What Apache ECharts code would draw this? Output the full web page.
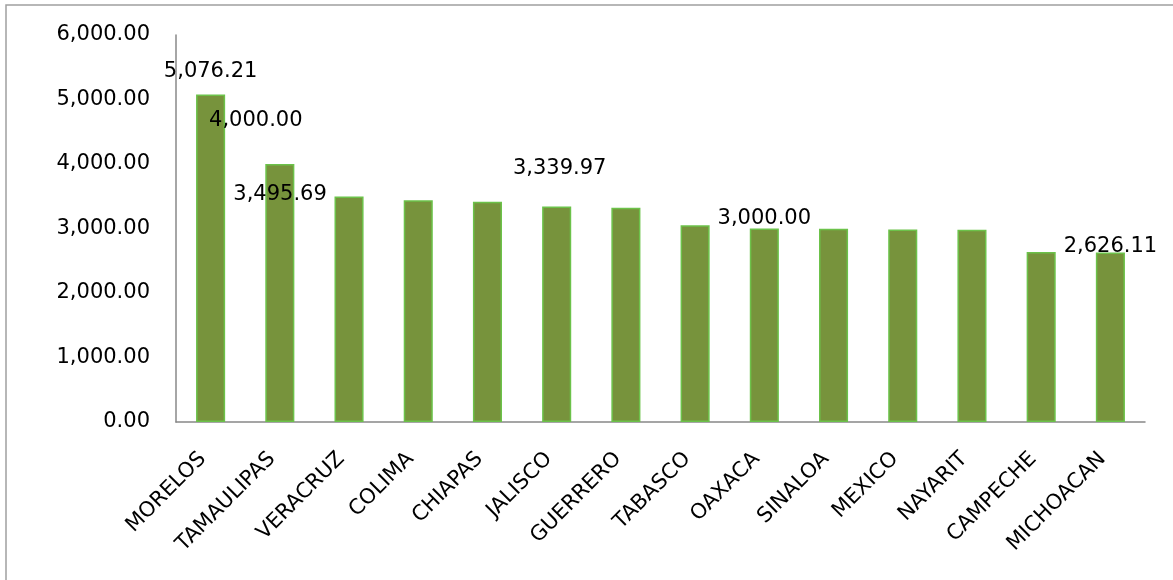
<!DOCTYPE html>
<html>
<head>
<meta charset="utf-8">
<script src="https://cdn.jsdelivr.net/npm/echarts@6/dist/echarts.min.js"></script>
<style>
  html, body { margin: 0; padding: 0; background: #fff; }
  #chart { width: 1173px; height: 580px; }
</style>
</head>
<body>
<div id="chart"></div>
<script>
// estados y valores
const estados = ['MORELOS', 'TAMAULIPAS', 'VERACRUZ', 'COLIMA', 'CHIAPAS', 'JALISCO', 'GUERRERO',
  'TABASCO', 'OAXACA', 'SINALOA', 'MEXICO', 'NAYARIT', 'CAMPECHE', 'MICHOACAN']
const valores = [5076.21, 4000.00, 3495.69, 3437, 3416, 3339.97, 3322,
  3050, 3000.00, 2998, 2983, 2980, 2635, 2626.11]
const yTicks = [0, 1000, 2000, 3000, 4000, 5000, 6000]

// etiquetas que se muestran (indice -> desplazamiento manual)
const etiquetas = {
  0: [0, -8],
  1: [-24, -28],
  2: [-69, 14],
  5: [3, -23],
  8: [0, 6],
  13: [0, 9]
}

const fmt = v => v.toLocaleString('en-US', { minimumFractionDigits: 2, maximumFractionDigits: 2 })
const fuente = 'DejaVu Sans'
const tam = 21

const datos = valores.map((v, i) => {
  const item = { value: v }
  if (etiquetas[i]) {
    item.label = { show: true, position: 'top', offset: etiquetas[i] }
  }
  return item
})

const chart = echarts.init(document.getElementById('chart'), null, { renderer: 'canvas' })
chart.setOption({
  animation: false,
  textStyle: { fontFamily: fuente },
  graphic: [{
    type: 'rect',
    shape: { x: 6, y: 5, width: 1200, height: 600 },
    style: { fill: 'none', stroke: '#a0a0a0', lineWidth: 1.5 },
    silent: true
  }],
  grid: { left: 176, right: 28, top: 35, bottom: 158 },
  xAxis: {
    type: 'category',
    data: estados,
    axisLine: { lineStyle: { color: '#888', width: 1.5 } },
    axisTick: { show: false },
    axisLabel: { rotate: 45, margin: 26, padding: [0, 11, 0, 0], color: '#000', fontSize: tam, fontFamily: fuente, interval: 0 }
  },
  yAxis: {
    type: 'value',
    min: yTicks[0],
    max: yTicks[yTicks.length - 1],
    interval: 1000,
    axisLine: { show: true, lineStyle: { color: '#888', width: 1.5 } },
    axisTick: { show: false },
    splitLine: { show: false },
    axisLabel: { margin: 26, color: '#000', fontSize: tam, fontFamily: fuente, formatter: fmt }
  },
  series: [{
    type: 'bar',
    data: datos,
    barWidth: '42%',
    itemStyle: { color: '#77933C', borderColor: '#6cc24a', borderWidth: 1.5 },
    label: { show: false, color: '#000', fontSize: tam, fontFamily: fuente, distance: 5, formatter: p => fmt(p.value) }
  }]
})
</script>
</body>
</html>
